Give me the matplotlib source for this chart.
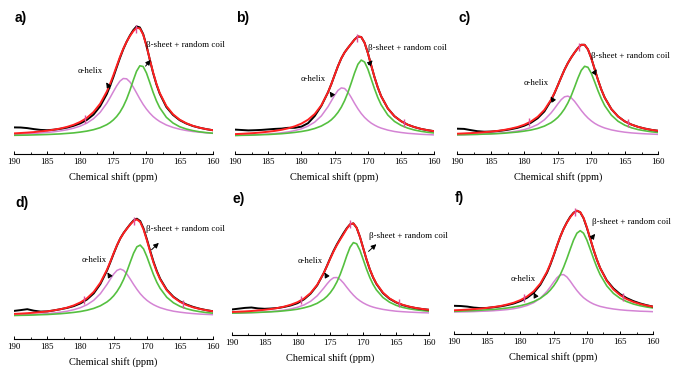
import numpy as np
import matplotlib
matplotlib.use('Agg')
import matplotlib.pyplot as plt

# ---------------- data (intensity in arbitrary units) ----------------
shift = [190, 189, 188, 187, 186, 185, 184, 183, 182, 181, 180, 179, 178, 177, 176, 175.5, 175, 174.5, 174,
         173.5, 173, 172.5, 172, 171.5, 171, 170.5, 170, 169.5, 169, 168.5, 168, 167, 166, 165, 164, 163, 162, 161, 160]

panels = ['a', 'b', 'c', 'd', 'e', 'f']

# experimental spectra (black)
a_exp = [266,265,259,249,241,238,243,252,264,282,306,341,394,477,598,679,769,866,961,1048,1122,1185,1238,1276,1266,1200,1084,945,811,697,604,470,391,339,305,280,263,249,238]
b_exp = [244,240,236,238,241,246,251,254,262,262,274,308,380,482,617,699,790,879,956,1016,1061,1103,1145,1175,1170,1113,1010,887,768,664,578,456,378,328,293,269,251,238,228]
c_exp = [253,251,239,228,223,224,229,237,248,262,283,313,358,426,537,607,686,766,843,909,965,1014,1059,1092,1092,1046,958,849,740,644,564,449,375,326,294,271,254,241,232]
d_exp = [281,289,298,283,274,276,286,298,311,329,356,396,456,550,684,767,853,935,1006,1061,1106,1149,1186,1203,1179,1105,998,882,773,680,603,492,422,376,344,320,302,288,277]
e_exp = [255,263,271,275,266,262,265,270,281,296,318,357,414,497,620,694,771,843,907,963,1018,1068,1107,1116,1072,981,868,755,656,575,511,419,362,325,299,282,269,259,252]
f_exp = [279,277,271,261,256,258,265,273,286,302,326,359,409,490,610,690,781,878,971,1050,1115,1170,1210,1230,1214,1155,1059,950,840,741,657,533,453,396,356,326,303,285,270]

# total fit (red)
a_fit = [206,210,214,219,226,233,243,255,271,292,321,361,419,502,623,700,787,879,971,1053,1122,1180,1228,1261,1256,1195,1082,947,816,703,611,480,398,344,308,282,263,249,238]
b_fit = [199,202,206,210,216,223,231,242,257,277,304,343,400,487,617,699,790,879,956,1016,1061,1103,1145,1175,1170,1113,1010,887,768,664,578,456,378,328,293,269,251,238,228]
c_fit = [203,206,209,213,218,224,231,241,254,270,293,325,372,441,544,611,686,766,843,909,965,1014,1059,1092,1092,1046,958,849,740,644,564,449,375,326,294,271,254,241,232]
d_fit = [251,254,258,263,269,276,286,298,314,336,366,408,471,563,694,774,858,938,1006,1059,1104,1145,1181,1196,1169,1095,988,872,763,671,596,487,417,371,339,316,300,287,277]
e_fit = [230,233,236,240,246,252,260,270,284,303,328,365,420,502,620,692,766,837,900,955,1008,1063,1107,1116,1072,981,868,756,658,578,514,424,366,328,302,284,270,260,252]
f_fit = [234,237,241,246,251,258,267,277,292,310,336,372,424,502,620,698,786,881,971,1049,1112,1165,1207,1230,1216,1158,1064,953,842,742,657,528,443,386,346,318,298,282,270]

# beta-sheet + random coil component (green)
a_beta = [187,188,189,191,193,195,198,201,206,211,219,229,243,263,293,314,341,375,419,476,548,636,735,827,882,875,810,715,617,532,463,367,310,273,250,234,222,214,208]
b_beta = [185,187,188,190,193,195,199,203,209,216,225,237,255,280,317,342,375,416,468,534,615,711,811,897,939,920,849,751,652,564,492,390,326,286,259,240,227,217,210]
c_beta = [192,193,195,196,199,201,204,208,214,220,229,240,256,279,313,337,366,404,451,510,582,668,758,836,877,867,807,722,632,552,484,388,327,288,262,244,232,222,215]
d_beta = [235,237,238,240,243,245,249,253,259,266,275,288,306,332,371,398,432,475,529,596,677,769,858,922,939,901,824,732,643,567,506,417,362,326,302,285,273,264,258]
e_beta = [219,220,222,224,226,229,232,236,242,249,258,272,290,317,358,387,424,471,531,606,696,793,878,924,912,847,754,659,575,506,451,375,328,297,276,262,252,244,238]
f_beta = [224,226,229,231,235,239,243,249,257,267,280,297,321,354,403,437,478,528,590,665,752,846,937,1005,1030,1005,937,846,752,665,590,478,403,354,321,297,280,267,257]

# alpha-helix component (pink)
a_alpha = [196,199,202,205,210,215,222,231,242,258,279,309,353,416,507,563,623,681,729,755,752,721,670,611,551,496,449,409,375,348,325,290,266,248,235,225,218,212,207]
b_alpha = [186,188,190,193,196,200,205,212,221,234,252,279,319,381,473,530,588,636,661,655,619,565,506,452,405,366,335,309,289,272,259,239,225,215,207,202,197,194,191]
c_alpha = [191,193,195,197,199,203,207,213,220,230,244,265,295,342,411,454,500,543,572,579,562,527,482,436,395,360,331,307,288,273,260,241,228,218,211,206,202,199,196]
d_alpha = [238,240,243,246,249,254,260,268,278,293,313,343,387,453,546,599,649,686,700,686,649,599,546,497,453,417,387,363,343,327,313,293,278,268,260,254,249,246,243]
e_alpha = [218,220,222,224,227,230,235,241,249,261,277,301,337,392,469,511,549,573,575,555,520,477,436,399,367,342,321,304,290,279,270,256,246,238,233,229,226,223,221]
f_alpha = [217,218,219,221,224,226,230,235,241,250,263,282,310,355,424,468,516,560,588,591,567,525,477,432,393,360,335,314,297,284,273,258,247,239,233,229,225,223,220]

# fit-range markers on the red curve
a_mark_x, a_mark_y = [179.3, 171.6], [349, 1254]
b_mark_x, b_mark_y = [171.7, 164.5], [1163, 310]
c_mark_x, c_mark_y = [179.3, 171.8, 164.5], [315, 1072, 310]
d_mark_x, d_mark_y = [179.5, 172.0, 164.5], [387, 1181, 355]
e_mark_x, e_mark_y = [179.5, 172.0, 164.6], [347, 1107, 318]
f_mark_x, f_mark_y = [179.5, 171.8, 164.5], [354, 1216, 366]

tick_vals = [190, 185, 180, 175, 170, 165, 160]
label_alpha = 'α-helix'
label_beta = 'β-sheet + random coil'
xlabel = 'Chemical shift (ppm)'

data = {
    'a': (a_exp, a_fit, a_beta, a_alpha, a_mark_x, a_mark_y),
    'b': (b_exp, b_fit, b_beta, b_alpha, b_mark_x, b_mark_y),
    'c': (c_exp, c_fit, c_beta, c_alpha, c_mark_x, c_mark_y),
    'd': (d_exp, d_fit, d_beta, d_alpha, d_mark_x, d_mark_y),
    'e': (e_exp, e_fit, e_beta, e_alpha, e_mark_x, e_mark_y),
    'f': (f_exp, f_fit, f_beta, f_alpha, f_mark_x, f_mark_y),
}

# ---------------- layout (pixels of a 680x367 canvas) ----------------
boxes = {'a': (14, 212.7, 154), 'b': (235, 434.3, 154), 'c': (457.3, 658.3, 154),
         'd': (14, 213.3, 339), 'e': (231.7, 429, 335), 'f': (454, 653.3, 333.7)}
# annotation anchors: alpha text, alpha arrow head, alpha arrow tail, beta text (left), beta head, beta tail
ann = {'a': [(178.5, 830), (176.3, 740), (175.3, 633), (170.0, 1090), (169.1, 963), (170.4, 857)],
       'b': [(178.2, 750), (176.0, 647), (175.2, 573), (170.0, 1063), (169.0, 957), (170.2, 873)],
       'c': [(178.3, 707), (176.3, 597), (175.4, 507), (170.0, 980), (169.0, 873), (169.8, 780)],
       'd': [(178.0, 790), (176.15, 690), (175.4, 607), (170.2, 1097), (167.9, 980), (169.6, 873)],
       'e': [(178.1, 740), (176.1, 650), (175.3, 557), (169.1, 993), (167.7, 927), (169.5, 817)],
       'f': [(179.66, 547), (178.2, 437), (177.65, 364), (169.3, 1113), (168.5, 1020), (169.6, 927)]}

plt.rcParams['font.family'] = ['Liberation Serif', 'DejaVu Serif']
fig = plt.figure(figsize=(6.8, 3.67), dpi=100)

for k in panels:
    x0, x1, yb = boxes[k]
    exp_, fit_, beta_, alpha_, mx, my = data[k]
    ax = fig.add_axes([x0 / 680, (367 - yb) / 367, (x1 - x0) / 680, 140 / 367])
    ax.plot(shift, alpha_, color='#d484d4', lw=1.1)
    ax.plot(shift, beta_, color='#55c040', lw=1.2)
    ax.plot(shift, exp_, color='black', lw=1.4)
    ax.plot(shift, fit_, color='#ff2020', lw=1.4)
    ax.plot(mx, my, ls='none', marker='|', ms=6, mew=1, color='#e0509a')
    ax.set_xlim(190, 160)
    ax.set_ylim(0, 1400)
    for s in ['left', 'right', 'top']:
        ax.spines[s].set_visible(False)
    ax.spines['bottom'].set_linewidth(0.8)
    ax.set_yticks([])
    ax.set_xticks(tick_vals)
    ax.set_xticks(np.arange(160, 190, 2.5), minor=True)
    ax.tick_params(axis='x', direction='in', length=2.5, width=0.7, labelsize=6.5, pad=3)
    ax.tick_params(axis='x', which='minor', direction='in', length=1.5, width=0.6)
    ax.set_xlabel(xlabel, fontsize=7.5, labelpad=4.5)
    a = ann[k]
    ax.text(a[0][0], a[0][1], label_alpha, ha='center', va='center', fontsize=6.3)
    ax.annotate('', xy=a[1], xytext=a[2],
                arrowprops=dict(arrowstyle='-|>', color='black', lw=0.7, mutation_scale=7.5))
    ax.text(a[3][0], a[3][1], label_beta, ha='left', va='center', fontsize=6.4)
    ax.annotate('', xy=a[4], xytext=a[5],
                arrowprops=dict(arrowstyle='-|>', color='black', lw=0.7, mutation_scale=7.5))
    fig.text((x0 + 1) / 680, 1 - (yb - 136) / 367, k + ')', fontsize=10,
             family='Liberation Sans', fontweight='bold', va='center', ha='left')

fig.savefig('out.png', dpi=100)
